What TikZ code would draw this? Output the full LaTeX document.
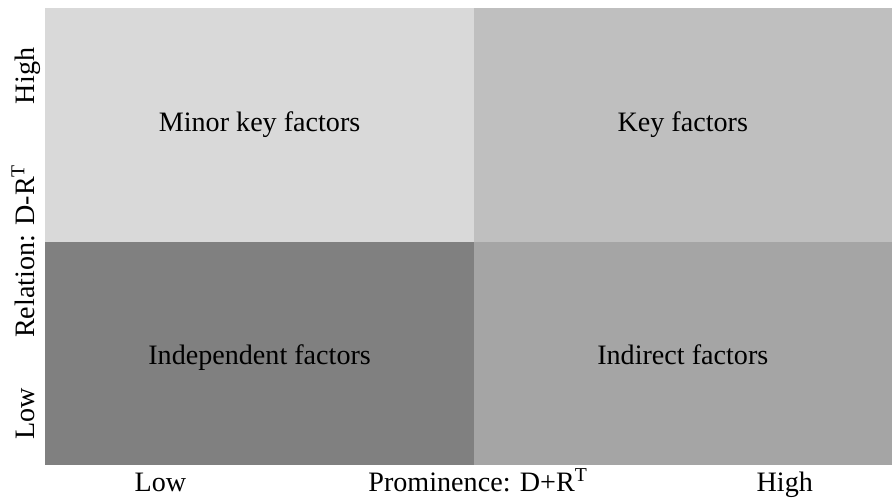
\documentclass[tikz,border=0pt]{standalone}
\usepackage{fontspec}
\setmainfont{Liberation Serif}
\usepackage{tikz}
\definecolor{minorgray}{RGB}{217,217,217}
\definecolor{keygray}{RGB}{191,191,191}
\definecolor{indepgray}{RGB}{128,128,128}
\definecolor{indirgray}{RGB}{165,165,165}
\tikzset{lab/.style={font=\fontsize{20}{24}\selectfont, inner sep=0pt, anchor=base}}
\begin{document}
\begin{tikzpicture}
	\useasboundingbox (0,0) rectangle (22.3,12.45);
	\fill[minorgray] (1.125,6.41) rectangle (11.85,12.25);
	\fill[keygray]   (11.85,6.41) rectangle (22.3,12.25);
	\fill[indepgray] (1.125,0.825) rectangle (11.85,6.41);
	\fill[indirgray] (11.85,0.825) rectangle (22.3,6.41);
	\node[lab] (minor) at (6.49, 9.15) {Minor key factors};
	\node[lab] (key)   at (17.07, 9.15) {Key factors};
	\node[lab] (indep) at (6.49, 3.33) {Independent factors};
	\node[lab] (indir) at (17.07, 3.33) {Indirect factors};
	\node[lab] (xlow)  at (4.01, 0.15) {Low};
	\node[lab] (xname) at (11.95, 0.15) {Prominence: D+R\textsuperscript{T}};
	\node[lab] (xhigh) at (19.62, 0.15) {High};
	\node[lab, rotate=90] (ylow)  at (0.875, 2.1) {Low};
	\node[lab, rotate=90] (yname) at (0.875, 6.17) {Relation: D-R\textsuperscript{T}};
	\node[lab, rotate=90] (yhigh) at (0.875, 10.55) {High};
\end{tikzpicture}
\end{document}
